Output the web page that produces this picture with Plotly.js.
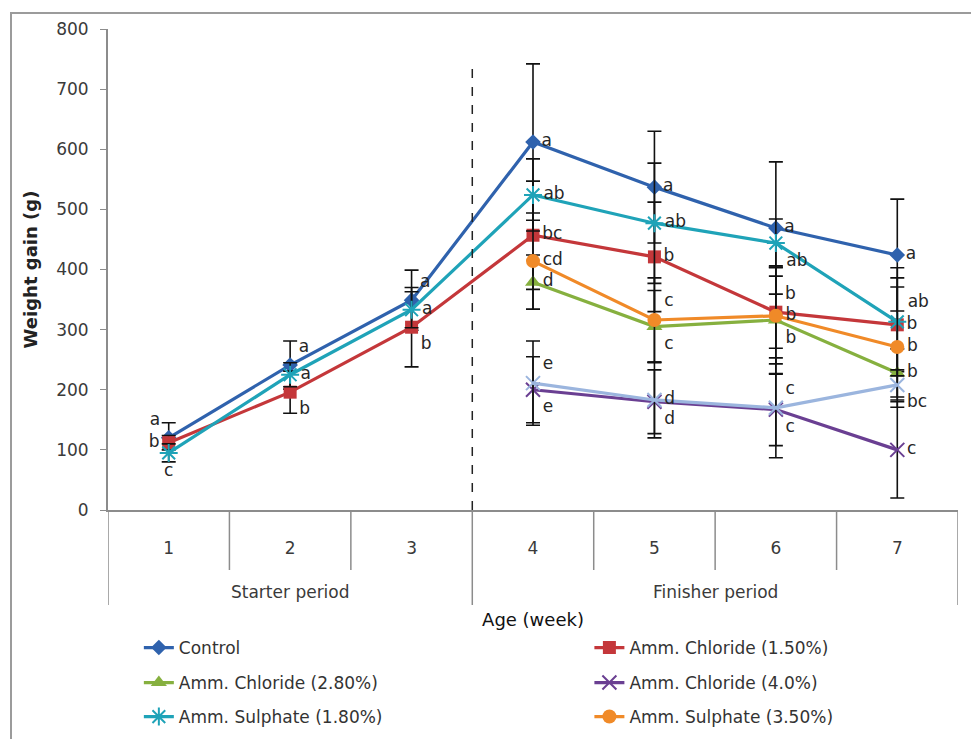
<!DOCTYPE html>
<html>
<head>
<meta charset="utf-8">
<script src="https://cdn.plot.ly/plotly-3.0.1.min.js"></script>
<style>
  body { margin: 0; padding: 0; background: #fff; }
  #chart { width: 971px; height: 739px; position: absolute; left: 0; top: 0; }
  #frame { position: absolute; left: 10px; top: 12px; width: 980px; height: 760px;
           border-left: 2px solid #9b9b9b; border-top: 2px solid #9b9b9b; pointer-events: none; }
</style>
</head>
<body>
<div id="chart"></div>
<div id="frame"></div>
<script>
// ---- data ----
const weeks = ['1', '2', '3', '4', '5', '6', '7'];
const periods = ['Starter period', 'Starter period', 'Starter period',
                 'Finisher period', 'Finisher period', 'Finisher period', 'Finisher period'];
const weeksLate = ['4', '5', '6', '7'];

const controlVals = [120, 241, 349, 612, 537, 469, 424];
const controlErr = [25, 40, 50, 130, 93, 110, 93];
const controlLet = ['a', 'a', 'a', 'a', 'a', 'a', 'a'];

const ac150Vals = [112, 196, 304, 457, 421, 329, 308];
const ac150Err = [12, 35, 66, 90, 91, 60, 78];
const ac150Let = ['b', 'b', 'b', 'bc', 'b', 'b', 'b'];

const as180Vals = [95, 225, 333, 524, 477, 444, 313];
const as180Err = [15, 20, 30, 60, 100, 40, 90];
const as180Let = ['c', 'a', 'a', 'ab', 'ab', 'ab', 'ab'];

const ac280Vals = [379, 305, 316, 228];
const ac280Err = [45, 60, 90, 40];
const ac280Let = ['d', 'c', 'b', 'b'];

const ac40Vals = [200, 180, 167, 100];
const ac40Err = [55, 53, 60, 80];
const ac40Let = ['e', 'd', 'c', 'c'];

const as350Vals = [414, 316, 323, 271];
const as350Err = [80, 70, 80, 100];
const as350Let = ['cd', 'c', 'b', 'b'];

const extraVals = [211, 183, 170, 208];
const extraErr = [70, 63, 83, 25];
const extraLet = ['e', 'd', 'c', 'bc'];

// ---- styling ----
const FONT = 'DejaVu Sans, sans-serif';
const txtFont = { family: FONT, size: 17, color: '#262626' };
function errBar(arr) {
  return { type: 'data', array: arr, visible: true, color: '#111', thickness: 1.6, width: 7 };
}
function series(name, xw, y, err, letters, pos, color, symbol, msize, open, leg) {
  return {
    type: 'scatter', mode: 'lines+markers+text', name: name,
    x: xw, y: y, text: letters, textposition: pos, textfont: txtFont,
    error_y: errBar(err),
    line: { color: color, width: 3.2 },
    marker: { symbol: symbol, size: msize, color: color,
              line: { color: color, width: open ? 2 : 0 } },
    showlegend: !!leg, legend: leg || 'legend', cliponaxis: false, hoverinfo: 'skip'
  };
}

const traces = [
  series('Control', weeks, controlVals, controlErr, controlLet,
    ['top left', 'top right', 'top right', 'middle right', 'middle right', 'middle right', 'middle right'],
    '#2f62ad', 'diamond', 12, false, 'legend'),
  series('Amm. Chloride (1.50%)', weeks, ac150Vals, ac150Err, ac150Let,
    ['middle left', 'bottom right', 'bottom right', 'middle right', 'middle right', 'top right', 'middle right'],
    '#c4373a', 'square', 13, false, 'legend2'),
  series('Amm. Chloride (2.80%)', weeksLate, ac280Vals, ac280Err, ac280Let,
    ['middle right', 'bottom right', 'bottom right', 'middle right'],
    '#86b03f', 'triangle-up', 14, false, 'legend3'),
  series('Amm. Chloride (4.0%)', weeksLate, ac40Vals, ac40Err, ac40Let,
    ['bottom right', 'bottom right', 'bottom right', 'middle right'],
    '#6a3f92', 'x-thin-open', 14, true, 'legend4'),
  series('Amm. Sulphate (1.80%)', weeks, as180Vals, as180Err, as180Let,
    ['bottom center', 'middle right', 'middle right', 'middle right', 'middle right', 'bottom right', 'top right'],
    '#1fa3b8', 'asterisk-open', 15, true, 'legend5'),
  series('Amm. Sulphate (3.50%)', weeksLate, as350Vals, as350Err, as350Let,
    ['middle right', 'top right', 'middle right', 'middle right'],
    '#f08a28', 'circle', 14, false, 'legend6'),
  series('Extra', weeksLate, extraVals, extraErr, extraLet,
    ['top right', 'middle right', 'top right', 'bottom right'],
    '#9bb5de', 'x-thin-open', 14, true, null)
];

function leg(x, y) {
  return { xref: 'container', yref: 'container', x: x, y: y, xanchor: 'left', yanchor: 'middle',
           orientation: 'h', bgcolor: 'rgba(0,0,0,0)',
           font: { family: FONT, size: 17, color: '#333' } };
}
const col1 = 0.143, col2 = 0.607;
const row1 = 1 - 648 / 739, row2 = 1 - 683 / 739, row3 = 1 - 717 / 739;

// plot-area geometry (for category separators below the axis)
const mT = 29, mB = 229, H = 739;
const plotH = H - mT - mB;
const AX = '#8c8c8c';

// separators and period labels derived from the category arrays
const shapes = [];
const annotations = [];
for (let i = 0; i <= weeks.length; i++) {
  const isGroup = (i === 0 || i === weeks.length || periods[i] !== periods[i - 1]);
  const len = isGroup ? 95 : 60;
  shapes.push({ type: 'line', xref: 'x', yref: 'paper', x0: i - 0.5, x1: i - 0.5,
                y0: 0, y1: -len / plotH, line: { color: AX, width: 1.5 } });
}
let start = 0;
for (let i = 1; i <= periods.length; i++) {
  if (i === periods.length || periods[i] !== periods[start]) {
    annotations.push({ xref: 'x', yref: 'paper', x: (start + i - 1) / 2, y: -82 / plotH,
                       text: periods[start], showarrow: false, yanchor: 'middle',
                       font: { family: FONT, size: 17, color: '#3a3a3a' } });
    start = i;
  }
}
// dashed divider between the two periods
shapes.push({ type: 'line', xref: 'x', yref: 'y', x0: 2.5, x1: 2.5, y0: 0, y1: 745,
              line: { color: '#222', width: 1.5, dash: 'dash' } });

const layout = {
  width: 971, height: H,
  margin: { l: 108, r: 13, t: mT, b: mB, autoexpand: false },
  paper_bgcolor: '#fff', plot_bgcolor: '#fff',
  font: { family: FONT, size: 17, color: '#333' },
  showlegend: true,
  xaxis: {
    type: 'category', categoryorder: 'array', categoryarray: weeks, range: [-0.5, 6.5],
    automargin: false,
    showline: true, linecolor: AX, linewidth: 2,
    ticks: '', ticklabelstandoff: 22,
    tickfont: { family: FONT, size: 17, color: '#3a3a3a' },
    showgrid: false, zeroline: false,
    title: { text: 'Age (week)', font: { family: FONT, size: 18, color: '#111' }, standoff: 67 }
  },
  yaxis: {
    range: [0, 800], dtick: 100, automargin: false,
    showline: true, linecolor: AX, linewidth: 2,
    ticks: 'outside', ticklen: 6, tickcolor: AX, ticklabelstandoff: 8,
    showgrid: false, zeroline: false,
    tickfont: { family: FONT, size: 17, color: '#3a3a3a' },
    title: { text: '<b>Weight gain (g)</b>', font: { family: FONT, size: 18, color: '#222' }, standoff: 14 }
  },
  legend: leg(col1, row1),
  legend2: leg(col2, row1),
  legend3: leg(col1, row2),
  legend4: leg(col2, row2),
  legend5: leg(col1, row3),
  legend6: leg(col2, row3),
  shapes: shapes,
  annotations: annotations
};

Plotly.newPlot('chart', traces, layout, { displayModeBar: false, staticPlot: true });
</script>
</body>
</html>
